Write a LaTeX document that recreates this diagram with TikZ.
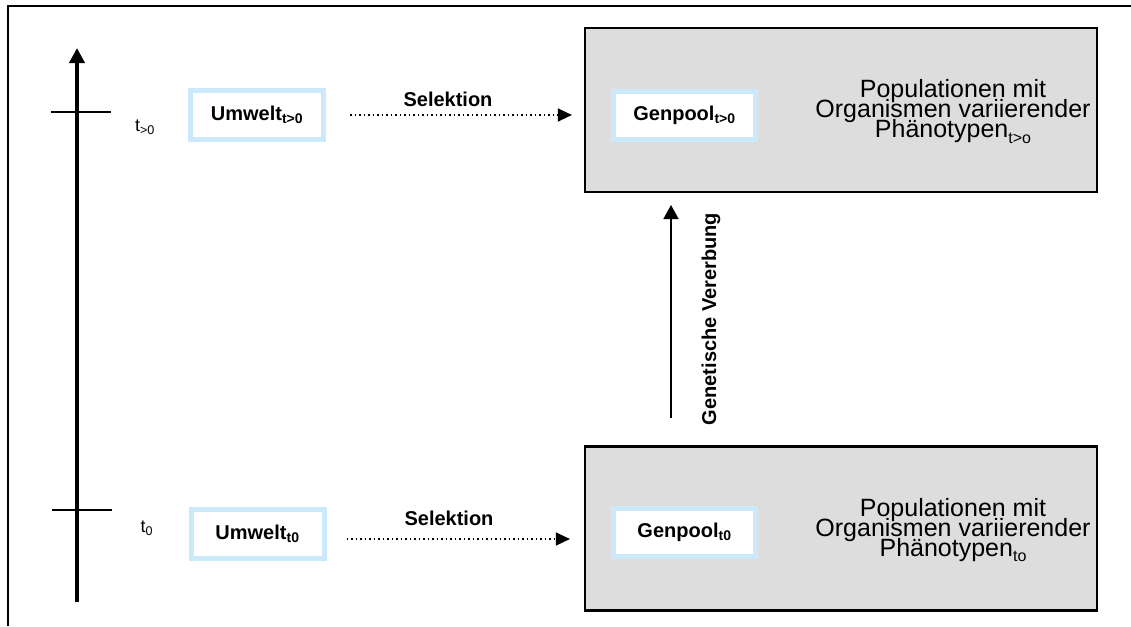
\documentclass[tikz,border=0pt]{standalone}
\usepackage{fontspec}
\setmainfont{Liberation Sans}
\usetikzlibrary{arrows.meta}
\definecolor{paleblue}{HTML}{CCE9FB}
\definecolor{boxgray}{HTML}{DDDDDD}
\newcommand{\tightlines}{\lineskiplimit=-30pt\relax}
\newcommand{\lowsub}[1]{\raisebox{-0.45ex}{\fontsize{16}{16}\selectfont #1}}
\tikzset{
  envbox/.style={draw=paleblue, line width=5pt, fill=white, minimum width=133pt, minimum height=49pt, inner sep=0pt, font=\fontsize{20}{22}\selectfont\bfseries},
  poolbox/.style={envbox, minimum width=142pt, minimum height=48pt},
  popbox/.style={draw=black, line width=2.2pt, fill=boxgray, minimum width=512pt, minimum height=164pt, inner sep=0pt},
  poptext/.style={align=center, font=\fontsize{25}{20}\selectfont\tightlines, inner sep=0pt},
  selarrow/.style={line width=1.5pt, dash pattern=on 1.5pt off 3pt, -{Triangle[length=14pt,width=13pt]}},
  lbl/.style={font=\fontsize{20}{22}\selectfont\bfseries, inner sep=0pt},
  tlbl/.style={font=\fontsize{18}{20}\selectfont, inner sep=0pt}
}
\begin{document}
\begin{tikzpicture}[x=1pt,y=-1pt]
\useasboundingbox (0,0) rectangle (1131,626);
% Frame
\draw [line width=2pt] (7.5,626) -- (7.5,6) -- (1131,6);

% Time axis
\coordinate (tbot) at (77,602);
\coordinate (ttop) at (77,48);
\draw [line width=4.5pt, -{Triangle[length=15pt,width=15pt]}] (tbot) -- (ttop);
\draw [line width=1.5pt] (51,112) -- (111,112);
\draw [line width=1.5pt] (52,510) -- (112,510);
\node [tlbl] (tone) at (145,127) {t\textsubscript{>0}};
\node [tlbl] (tzero) at (147,528) {t\textsubscript{0}};

% Populations
\node [popbox] (popone) at (841,110) {};
\node [popbox] (popzero) at (841,528.5) {};
\node [poptext] (txtone) at (953,111.5) {Populationen mit\\Organismen variierender\\Phänotypen\lowsub{t>o}};
\node [poptext] (txtzero) at (953,530) {Populationen mit\\Organismen variierender\\Phänotypen\lowsub{to}};

% Environment and gene pool
\node [envbox] (envone) at (257,115) {Umwelt\textsubscript{t>0}};
\node [envbox] (envzero) at (257.5,534) {Umwelt\textsubscript{t0}};
\node [poolbox] (poolone) at (684.5,115) {Genpool\textsubscript{t>0}};
\node [poolbox] (poolzero) at (684.5,532.5) {Genpool\textsubscript{t0}};

% Selection
\draw [selarrow, shorten <=24pt, shorten >=12pt] (envone.east) -- (envone.east -| popone.west);
\node [lbl] (selone) at (448,99) {Selektion};
\draw [selarrow, shorten <=20pt, shorten >=14pt] (envzero.east) ++(0,5) -- (popzero.west |- 0,539);
\node [lbl] (selzero) at (449,518.5) {Selektion};

% Inheritance
\coordinate (inhbot) at (671,418);
\coordinate (inhtop) at (671,205);
\draw [line width=1.5pt, -{Triangle[length=14pt,width=15pt]}] (inhbot) -- (inhtop);
\node [lbl, rotate=90] (inh) at (711,319) {Genetische Vererbung};

\end{tikzpicture}
\end{document}
